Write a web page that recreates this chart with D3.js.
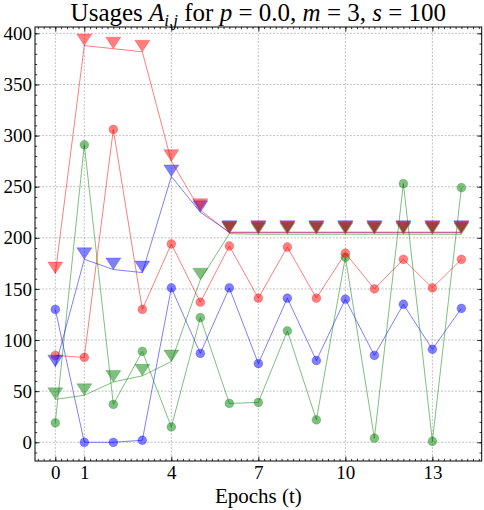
<!DOCTYPE html>
<html lang="en">
<head>
<meta charset="utf-8">
<script src="https://d3js.org/d3.v7.min.js"></script>
<style type="text/css">
body {
    margin: 0;
    background: white;
}
text {
    font-family: "Liberation Serif", serif;
    fill: black;
}
</style>
</head>
<body>
<div id="chart"></div>
<script type="text/javascript">

// epochs on the x axis
var epochs = [0, 1, 2, 3, 4, 5, 6, 7, 8, 9, 10, 11, 12, 13, 14];

// circle series (usages)
var redCircle   = [85, 83, 306, 130, 194, 137, 192, 141, 191, 141, 185, 150, 179, 151, 179];
var greenCircle = [19, 291, 37, 89, 15, 122, 38, 39, 109, 22, 181, 4, 253, 1, 249];
var blueCircle  = [130, 0, 0, 2, 151, 87, 151, 77, 141, 80, 140, 85, 135, 91, 131];

// triangle series
var redTri   = [165, 388, 385, 382, 275, 227, 205, 205, 205, 205, 205, 205, 205, 205, 205];
var greenTri = [42, 46, 59, 65, 79, 159, 204, 203.5, 203.5, 203.5, 203.5, 203.5, 203.5, 203.5, 203.5];
var blueTri  = [74, 179, 169, 166, 260, 225, 205.5, 205.5, 205.5, 205.5, 205.5, 205.5, 205.5, 205.5, 205.5];

var xTicks = [0, 1, 4, 7, 10, 13];
var yTicks = [0, 50, 100, 150, 200, 250, 300, 350, 400];

var width = 484;
var height = 510;

var mLeft = 35, mRight = 481.7, mTop = 27, mBottom = 461;

var x = d3.scaleLinear().domain([-0.7, 14.7]).range([mLeft, mRight]);
var y = d3.scaleLinear().domain([-18.3, 406.2]).range([mBottom, mTop]);

var svg = d3.select("#chart")
    .append("svg")
    .attr("width", width)
    .attr("height", height);

// grid
var grid = svg.append("g").attr("class", "grid");
grid.selectAll("line.gx")
    .data(xTicks)
    .enter()
    .append("line")
    .attr("x1", function(d) { return x(d); })
    .attr("x2", function(d) { return x(d); })
    .attr("y1", mTop)
    .attr("y2", mBottom)
    .attr("stroke", "#999")
    .attr("stroke-width", 0.6)
    .attr("stroke-dasharray", "2,1.5");
grid.selectAll("line.gy")
    .data(yTicks)
    .enter()
    .append("line")
    .attr("y1", function(d) { return y(d); })
    .attr("y2", function(d) { return y(d); })
    .attr("x1", mLeft)
    .attr("x2", mRight)
    .attr("stroke", "#999")
    .attr("stroke-width", 0.6)
    .attr("stroke-dasharray", "2,1.5");

// series definitions (drawing order: blue, green, red)
var series = [
    {vals: blueCircle, color: "#0000ff", shape: "circle"},
    {vals: greenCircle, color: "#008000", shape: "circle"},
    {vals: redCircle, color: "#ff0000", shape: "circle"},
    {vals: blueTri, color: "#0000ff", shape: "tri"},
    {vals: greenTri, color: "#008000", shape: "tri"},
    {vals: redTri, color: "#ff0000", shape: "tri"}
];

var line = d3.line()
    .x(function(d, i) { return x(epochs[i]); })
    .y(function(d) { return y(d); });

series.forEach(function(s) {
    var g = svg.append("g");
    g.append("path")
        .attr("d", line(s.vals))
        .attr("fill", "none")
        .attr("stroke", s.color)
        .attr("stroke-opacity", 0.5)
        .attr("stroke-width", 1);

    if (s.shape == "circle") {
        g.selectAll("circle")
            .data(s.vals)
            .enter()
            .append("circle")
            .attr("cx", function(d, i) { return x(epochs[i]); })
            .attr("cy", function(d) { return y(d); })
            .attr("r", 4.4)
            .attr("fill", s.color)
            .attr("fill-opacity", 0.5)
            .attr("stroke", s.color)
            .attr("stroke-opacity", 0.3)
            .attr("stroke-width", 0.8);
    } else {
        // downward triangle with its tip on the value
        g.selectAll("path.tri")
            .data(s.vals)
            .enter()
            .append("path")
            .attr("class", "tri")
            .attr("d", function(d, i) {
                var cx = x(epochs[i]), cy = y(d);
                return "M" + cx + "," + cy + "L" + (cx - 7.5) + "," + (cy - 11.5) +
                       "L" + (cx + 7.5) + "," + (cy - 11.5) + "Z";
            })
            .attr("fill", s.color)
            .attr("fill-opacity", 0.5)
            .attr("stroke", s.color)
            .attr("stroke-opacity", 0.3)
            .attr("stroke-width", 0.8);
    }
});

// minor tick positions
var xMinor = d3.range(-3, 74).map(function(k) { return k * 0.2; })
    .filter(function(v) { return v >= -0.7 && v <= 14.7; });
var yMinor = d3.range(-1, 41).map(function(k) { return k * 10; })
    .filter(function(v) { return v >= -18.3 && v <= 406.2; });

function styleAxis(g) {
    g.select(".domain").remove();
    g.selectAll("line").attr("stroke", "black").attr("stroke-width", 0.8);
    g.selectAll("text").style("font-family", "'Liberation Serif', serif").style("font-size", "19px");
}

// minor ticks
svg.append("g").attr("transform", "translate(0," + mBottom + ")")
    .call(d3.axisBottom(x).tickValues(xMinor).tickSize(-2.2).tickFormat("")).call(styleAxis);
svg.append("g").attr("transform", "translate(0," + mTop + ")")
    .call(d3.axisTop(x).tickValues(xMinor).tickSize(-2.2).tickFormat("")).call(styleAxis);
svg.append("g").attr("transform", "translate(" + mLeft + ",0)")
    .call(d3.axisLeft(y).tickValues(yMinor).tickSize(-2.2).tickFormat("")).call(styleAxis);
svg.append("g").attr("transform", "translate(" + mRight + ",0)")
    .call(d3.axisRight(y).tickValues(yMinor).tickSize(-2.2).tickFormat("")).call(styleAxis);

// major ticks
svg.append("g").attr("transform", "translate(0," + mBottom + ")")
    .call(d3.axisBottom(x).tickValues(xTicks).tickSize(-4.5).tickPadding(5)).call(styleAxis);
svg.append("g").attr("transform", "translate(0," + mTop + ")")
    .call(d3.axisTop(x).tickValues(xTicks).tickSize(-4.5).tickFormat("")).call(styleAxis);
svg.append("g").attr("transform", "translate(" + mLeft + ",0)")
    .call(d3.axisLeft(y).tickValues(yTicks).tickSize(-4.5).tickPadding(3)).call(styleAxis);
svg.append("g").attr("transform", "translate(" + mRight + ",0)")
    .call(d3.axisRight(y).tickValues(yTicks).tickSize(-4.5).tickFormat("")).call(styleAxis);

// frame
svg.append("rect")
    .attr("x", mLeft)
    .attr("y", mTop)
    .attr("width", mRight - mLeft)
    .attr("height", mBottom - mTop)
    .attr("fill", "none")
    .attr("stroke", "black")
    .attr("stroke-width", 1);

// x label
svg.append("text")
    .attr("x", (mLeft + mRight) / 2)
    .attr("y", 503)
    .attr("text-anchor", "middle")
    .style("font-size", "21px")
    .text("Epochs (t)");

// title
var title = svg.append("text")
    .attr("x", (mLeft + mRight) / 2)
    .attr("y", 21)
    .attr("text-anchor", "middle")
    .style("font-size", "25px");
title.append("tspan").text("Usages ");
title.append("tspan").style("font-style", "italic").text("A");
title.append("tspan").style("font-style", "italic").style("font-size", "17px")
    .attr("dy", 5).text("i,j");
title.append("tspan").attr("dy", -5).text(" for ");
title.append("tspan").style("font-style", "italic").text("p");
title.append("tspan").text(" = 0.0, ");
title.append("tspan").style("font-style", "italic").text("m");
title.append("tspan").text(" = 3, ");
title.append("tspan").style("font-style", "italic").text("s");
title.append("tspan").text(" = 100");

</script>
</body>
</html>
